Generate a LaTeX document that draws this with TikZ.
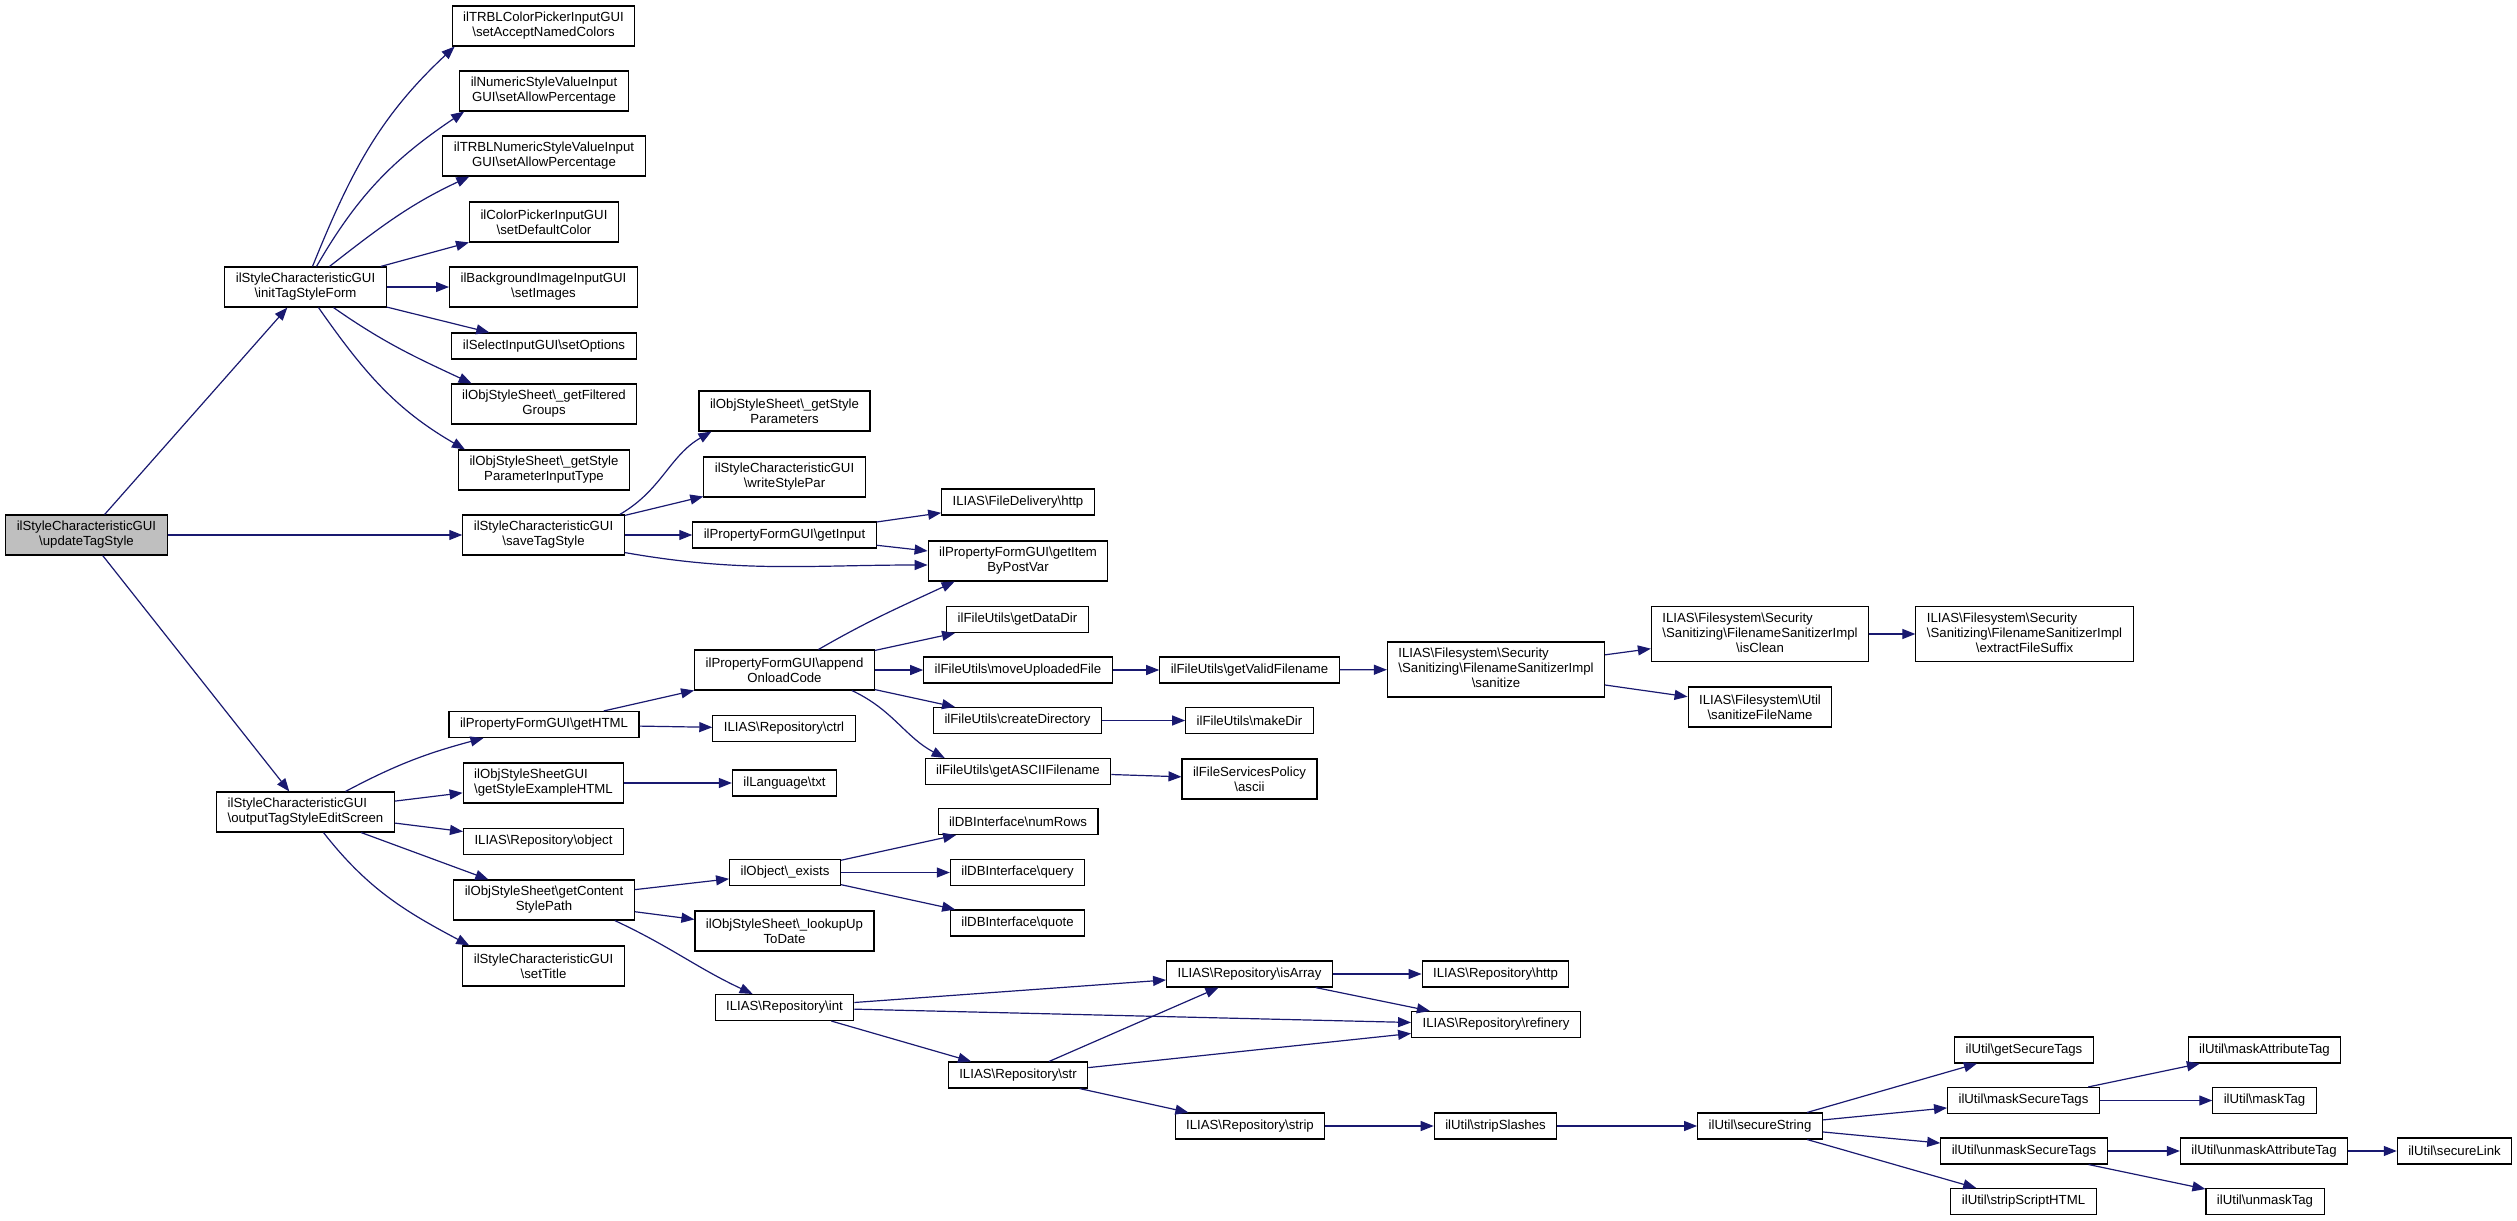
\documentclass[tikz,border=0pt]{standalone}
\usepackage{fontspec}
\newfontfamily\doxfont{Liberation Sans}
\usetikzlibrary{arrows.meta}
\definecolor{edgeblue}{HTML}{191970}
\definecolor{rootgray}{HTML}{BFBFBF}
\newcommand{\bs}{\textbackslash}
\newcommand{\lastc}[1]{\multicolumn{1}{@{}c@{}}{#1}}

\begin{document}
\begin{tikzpicture}[x=1pt, y=1pt,
    fn/.style={draw=black, line width=1.1pt, fill=white, inner xsep=11pt, inner ysep=2pt,
        minimum height=26pt, align=center, font=\doxfont\fontsize{13.2}{15}\selectfont},
    fn2/.style={fn, minimum height=40pt},
    fn3/.style={fn, minimum height=55pt},
    root/.style={fill=rootgray},
    call/.style={draw=edgeblue, line width=1.2pt, -{Triangle[length=13pt, width=10pt]}}]
    \useasboundingbox (0,0) rectangle (2517,-1221);

    % root
    \node[fn2, root] (update) at (86.5,-535) {ilStyleCharacteristicGUI\\\bs updateTagStyle};

    % column 2
    \node[fn2] (init) at (305.5,-287) {ilStyleCharacteristicGUI\\\bs initTagStyleForm};
    \node[fn2] (output) at (305.5,-812) {\begin{tabular}{@{}l@{}}ilStyleCharacteristicGUI\\\bs outputTagStyleEditScreen\end{tabular}};

    % column 3
    \node[fn2] (trblcolor) at (543.5,-26) {ilTRBLColorPickerInputGUI\\\bs setAcceptNamedColors};
    \node[fn2] (numeric) at (544,-91) {ilNumericStyleValueInput\\GUI\bs setAllowPercentage};
    \node[fn2] (trblnum) at (544,-156) {ilTRBLNumericStyleValueInput\\GUI\bs setAllowPercentage};
    \node[fn2] (colorpick) at (544,-222) {ilColorPickerInputGUI\\\bs setDefaultColor};
    \node[fn2] (bgimg) at (543.5,-287) {ilBackgroundImageInputGUI\\\bs setImages};
    \node[fn] (select) at (544,-346) {ilSelectInputGUI\bs setOptions};
    \node[fn2] (filtered) at (544,-404) {ilObjStyleSheet\bs\_getFiltered\\Groups};
    \node[fn2] (paramtype) at (544,-470) {ilObjStyleSheet\bs\_getStyle\\ParameterInputType};
    \node[fn2] (save) at (543.5,-535) {ilStyleCharacteristicGUI\\\bs saveTagStyle};
    \node[fn] (gethtml) at (544,-724.5) {ilPropertyFormGUI\bs getHTML};
    \node[fn2] (stylegui) at (543.5,-783) {\begin{tabular}{@{}l@{}}ilObjStyleSheetGUI\\\bs getStyleExampleHTML\end{tabular}};
    \node[fn] (object) at (543.5,-841.5) {ILIAS\bs Repository\bs object};
    \node[fn2] (contentpath) at (544,-900) {ilObjStyleSheet\bs getContent\\StylePath};
    \node[fn2] (settitle) at (543.5,-966) {ilStyleCharacteristicGUI\\\bs setTitle};

    % column 4
    \node[fn2] (styleparams) at (784.5,-411) {ilObjStyleSheet\bs\_getStyle\\Parameters};
    \node[fn2] (writepar) at (784.5,-477) {ilStyleCharacteristicGUI\\\bs writeStylePar};
    \node[fn] (getinput) at (784.5,-535) {ilPropertyFormGUI\bs getInput};
    \node[fn2] (append) at (784.5,-670) {ilPropertyFormGUI\bs append\\OnloadCode};
    \node[fn] (ctrl) at (784,-728.5) {ILIAS\bs Repository\bs ctrl};
    \node[fn] (txt) at (784.5,-783) {ilLanguage\bs txt};
    \node[fn] (exists) at (785,-872.5) {ilObject\bs\_exists};
    \node[fn2] (lookup) at (784.5,-931) {ilObjStyleSheet\bs\_lookupUp\\ToDate};
    \node[fn] (int) at (784.5,-1007.5) {ILIAS\bs Repository\bs int};

    % column 5
    \node[fn] (http) at (1018,-502) {ILIAS\bs FileDelivery\bs http};
    \node[fn2] (getitem) at (1018,-561) {ilPropertyFormGUI\bs getItem\\ByPostVar};
    \node[fn] (datadir) at (1017.5,-619.5) {ilFileUtils\bs getDataDir};
    \node[fn] (moveup) at (1018,-670) {ilFileUtils\bs moveUploadedFile};
    \node[fn] (createdir) at (1017.5,-720.5) {ilFileUtils\bs createDirectory};
    \node[fn] (ascii) at (1018,-771.5) {ilFileUtils\bs getASCIIFilename};
    \node[fn] (numrows) at (1018,-821.5) {ilDBInterface\bs numRows};
    \node[fn] (query) at (1017.5,-872.5) {ilDBInterface\bs query};
    \node[fn] (quote) at (1017.5,-923) {ilDBInterface\bs quote};
    \node[fn] (str) at (1018,-1075) {ILIAS\bs Repository\bs str};

    % column 6
    \node[fn] (validfn) at (1249.5,-670) {ilFileUtils\bs getValidFilename};
    \node[fn] (makedir) at (1249.5,-720.5) {ilFileUtils\bs makeDir};
    \node[fn2] (policy) at (1249.5,-779) {ilFileServicesPolicy\\\bs ascii};
    \node[fn] (isarray) at (1249.5,-974) {ILIAS\bs Repository\bs isArray};
    \node[fn] (strip) at (1250,-1126) {ILIAS\bs Repository\bs strip};

    % column 7
    \node[fn3] (sanitize) at (1496,-669.5) {\begin{tabular}{@{}l@{}}ILIAS\bs Filesystem\bs Security\\\bs Sanitizing\bs FilenameSanitizerImpl\\\lastc{\bs sanitize}\end{tabular}};
    \node[fn] (rhttp) at (1495.5,-974) {ILIAS\bs Repository\bs http};
    \node[fn] (refinery) at (1496,-1024.5) {ILIAS\bs Repository\bs refinery};
    \node[fn] (stripslashes) at (1495.5,-1126) {ilUtil\bs stripSlashes};

    % column 8
    \node[fn3] (isclean) at (1760,-634) {\begin{tabular}{@{}l@{}}ILIAS\bs Filesystem\bs Security\\\bs Sanitizing\bs FilenameSanitizerImpl\\\lastc{\bs isClean}\end{tabular}};
    \node[fn2] (sanitizefn) at (1760,-707) {ILIAS\bs Filesystem\bs Util\\\bs sanitizeFileName};
    \node[fn] (securestr) at (1760,-1126) {ilUtil\bs secureString};

    % column 9
    \node[fn3] (extract) at (2024.5,-634) {\begin{tabular}{@{}l@{}}ILIAS\bs Filesystem\bs Security\\\bs Sanitizing\bs FilenameSanitizerImpl\\\lastc{\bs extractFileSuffix}\end{tabular}};
    \node[fn] (getsecure) at (2024,-1050) {ilUtil\bs getSecureTags};
    \node[fn] (masksecure) at (2023.5,-1100.5) {ilUtil\bs maskSecureTags};
    \node[fn] (unmasksecure) at (2024,-1151) {ilUtil\bs unmaskSecureTags};
    \node[fn] (stripscript) at (2023.5,-1201.5) {ilUtil\bs stripScriptHTML};

    % column 10 and 11
    \node[fn] (maskattr) at (2264.5,-1050) {ilUtil\bs maskAttributeTag};
    \node[fn] (masktag) at (2264.5,-1100.5) {ilUtil\bs maskTag};
    \node[fn] (unmaskattr) at (2264,-1151) {ilUtil\bs unmaskAttributeTag};
    \node[fn] (unmasktag) at (2265,-1201.5) {ilUtil\bs unmaskTag};
    \node[fn] (securelink) at (2454.5,-1151) {ilUtil\bs secureLink};

    % calls of updateTagStyle
    \draw[call] (update) -- (init);
    \draw[call] (update) -- (save);
    \draw[call] (update) -- (output);

    % calls of initTagStyleForm
    \draw[call] ([xshift=7pt]init.north) to[out=68, in=223] ([xshift=3pt]trblcolor.south west);
    \draw[call] ([xshift=11pt]init.north) to[out=60, in=214] ([xshift=5pt]numeric.south west);
    \draw[call] ([xshift=24pt]init.north) to[out=38, in=205] ([xshift=27pt]trblnum.south west);
    \draw[call] (init) -- (colorpick);
    \draw[call] (init) -- (bgimg);
    \draw[call] (init) -- (select);
    \draw[call] ([xshift=28pt]init.south) to[out=-35, in=155] ([xshift=21pt]filtered.north west);
    \draw[call] ([xshift=13pt]init.south) to[out=-55, in=150] ([xshift=7pt]paramtype.north west);

    % calls of saveTagStyle
    \draw[call] ([xshift=-5pt]save.north east) to[out=30, in=210] ([xshift=13pt]styleparams.south west);
    \draw[call] (save) -- (writepar);
    \draw[call] (save) -- (getinput);
    \draw[call] ([yshift=3pt]save.south east) to[out=-10, in=180] ([yshift=-4pt]getitem.west);
    \draw[call] (getinput) -- (http);
    \draw[call] (getinput) -- (getitem);

    % calls of outputTagStyleEditScreen
    \draw[call] ([xshift=40pt]output.north) to[out=28, in=195] ([xshift=35pt]gethtml.south west);
    \draw[call] (output) -- (stylegui);
    \draw[call] (output) -- (object);
    \draw[call] (output) -- (contentpath);
    \draw[call] ([xshift=18pt]output.south) to[out=-52, in=152] ([xshift=7pt]settitle.north west);
    \draw[call] (gethtml) -- (append);
    \draw[call] (gethtml) -- (ctrl);
    \draw[call] (stylegui) -- (txt);

    % appendOnloadCode and file utils
    \draw[call] ([xshift=34pt]append.north) to[out=30, in=205] ([xshift=27pt]getitem.south west);
    \draw[call] (append) -- (datadir);
    \draw[call] (append) -- (moveup);
    \draw[call] (append) -- (createdir);
    \draw[call] ([xshift=-23pt]append.south east) to[out=-25, in=152] ([xshift=20pt]ascii.north west);
    \draw[call] (moveup) -- (validfn);
    \draw[call] (validfn) -- (sanitize);
    \draw[call] (sanitize) -- (isclean);
    \draw[call] (sanitize) -- (sanitizefn);
    \draw[call] (isclean) -- (extract);
    \draw[call] (createdir) -- (makedir);
    \draw[call] (ascii) -- (policy);

    % getContentStylePath
    \draw[call] (contentpath) -- (exists);
    \draw[call] (contentpath) -- (lookup);
    \draw[call] ([xshift=-20pt]contentpath.south east) to[out=-25, in=155] ([xshift=38pt]int.north west);
    \draw[call] (exists) -- (numrows);
    \draw[call] (exists) -- (query);
    \draw[call] (exists) -- (quote);

    % repository
    \draw[call] (int) -- (isarray);
    \draw[call] (int) -- (refinery);
    \draw[call] (int) -- (str);
    \draw[call] (str) -- (isarray);
    \draw[call] (str) -- (refinery);
    \draw[call] (str) -- (strip);
    \draw[call] (isarray) -- (rhttp);
    \draw[call] (isarray) -- (refinery);
    \draw[call] (strip) -- (stripslashes);
    \draw[call] (stripslashes) -- (securestr);

    % secureString
    \draw[call] (securestr) -- (getsecure);
    \draw[call] (securestr) -- (masksecure);
    \draw[call] (securestr) -- (unmasksecure);
    \draw[call] (securestr) -- (stripscript);
    \draw[call] (masksecure) -- (maskattr);
    \draw[call] (masksecure) -- (masktag);
    \draw[call] (unmasksecure) -- (unmaskattr);
    \draw[call] (unmasksecure) -- (unmasktag);
    \draw[call] (unmaskattr) -- (securelink);
\end{tikzpicture}
\end{document}
